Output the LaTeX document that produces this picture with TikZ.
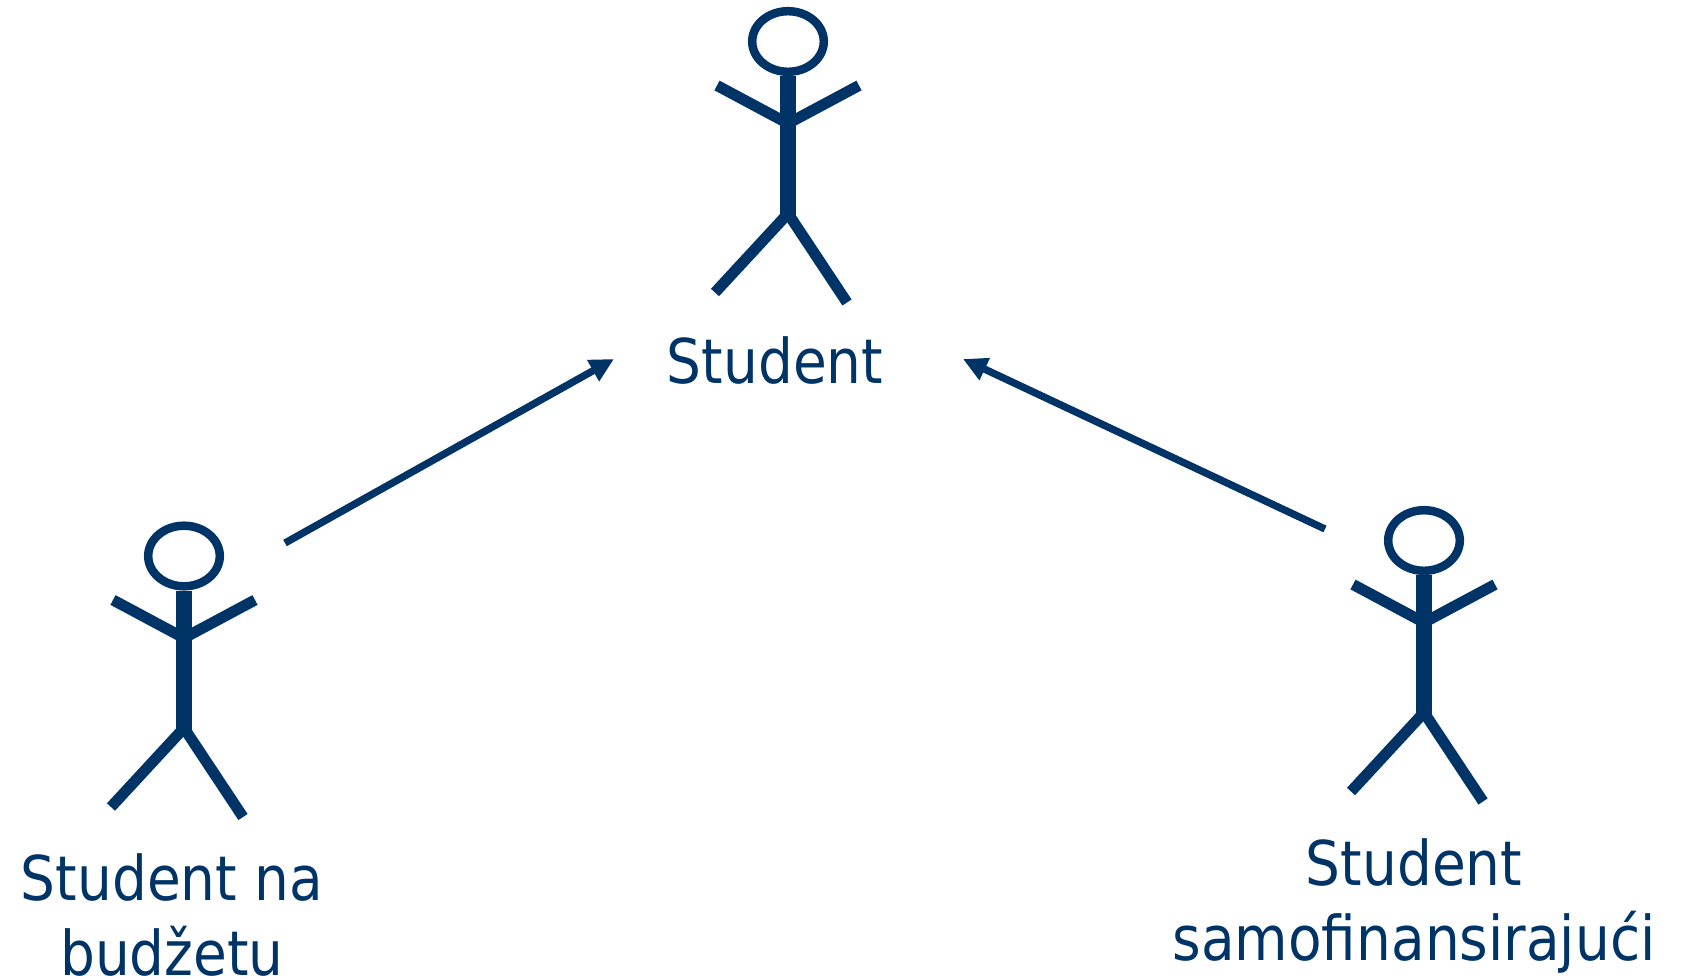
\documentclass[tikz,border=0pt]{standalone}
\usepackage{fontspec}
\setmainfont{DejaVu Sans}[FakeStretch=0.89]
\usetikzlibrary{arrows.meta}
\definecolor{navy}{RGB}{0,51,102}
\tikzset{
  actorpart/.style={draw=navy, line cap=butt},
  label/.style={text=navy, inner sep=0pt, align=center, font=\fontsize{61.7pt}{75pt}\selectfont},
  gen/.style={draw=navy, line width=7.3pt, -{Triangle[length=24pt,width=23pt]}},
  actor/.pic={
    \draw[actorpart, line width=8.5pt] (0,0) ellipse [x radius=35.8, y radius=30.3];
    \draw[actorpart, line width=11pt] (-71,44) -- (0,82) -- (71,44);
    \draw[actorpart, line width=11pt] (-73,251) -- (0,172) -- (59,261);
    \draw[actorpart, line width=16pt] (0,34.5) -- (0,174);
  }
}
\begin{document}
\begin{tikzpicture}[x=1pt, y=-1pt]
  \useasboundingbox (0,0) rectangle (1689,979);
  % actors
  \pic at (788,41.5) {actor};
  \pic at (184,556) {actor};
  \pic at (1424,540.5) {actor};
  % labels (base anchor = baseline of last line)
  \node[label, anchor=base] (lblTop) at (775,383) {Student};
  \node[label, anchor=base] (lblLeft) at (172,975) {Student na\\ budžetu};
  \node[label, anchor=base] (lblRight) at (1414,960) {Student\\ samofinansirajući};
  % connector ends
  \coordinate (a1s) at (285,543);
  \coordinate (a1e) at (614,359);
  \coordinate (a2s) at (1325,529);
  \coordinate (a2e) at (963,359);
  \draw[gen] (a1s) -- (a1e);
  \draw[gen] (a2s) -- (a2e);
\end{tikzpicture}
\end{document}
